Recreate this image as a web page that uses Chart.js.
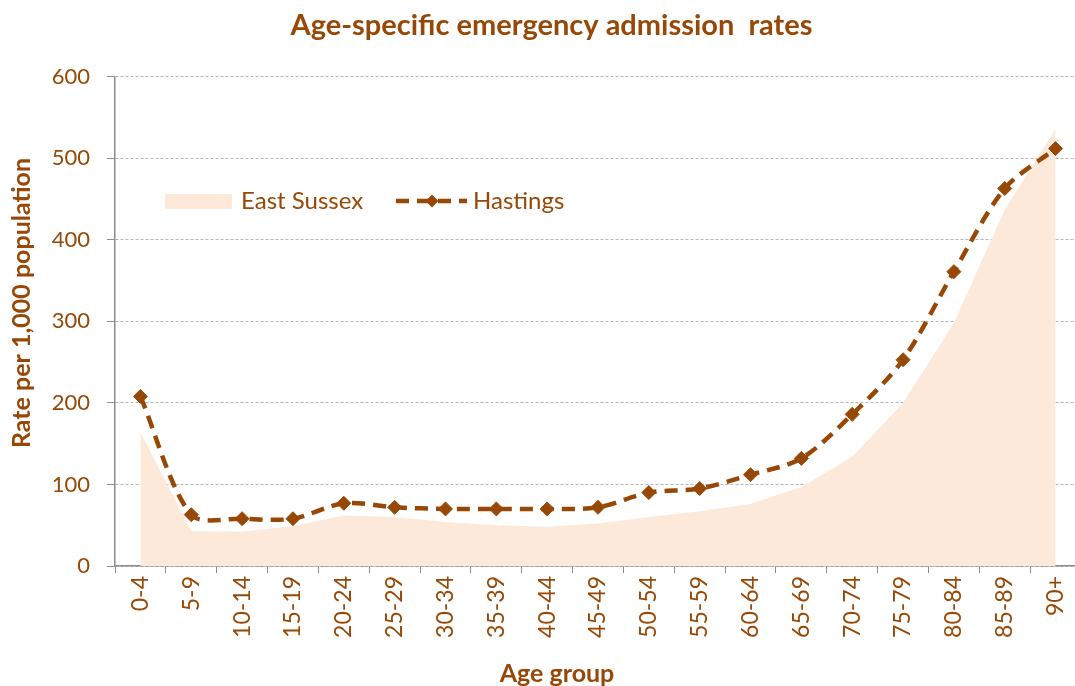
<!DOCTYPE html>
<html>
<head>
<meta charset="utf-8">
<script src="https://cdn.jsdelivr.net/npm/chart.js@4/dist/chart.umd.min.js"></script>
<style>
html,body{margin:0;padding:0;background:#fff;overflow:hidden;width:1075px;height:686px;}
#wrap{width:1075px;height:686px;overflow:hidden;}
canvas{display:block;}
</style>
</head>
<body>
<div id="wrap"><canvas id="c" width="1100" height="686" style="width:1100px;height:686px"></canvas></div>
<script>
const categories = ['0-4','5-9','10-14','15-19','20-24','25-29','30-34','35-39','40-44','45-49','50-54','55-59','60-64','65-69','70-74','75-79','80-84','85-89','90+'];
const eastSussex = [164, 43, 42, 49, 62, 60, 54, 50, 48, 52, 60, 67, 76, 97, 134, 200, 298, 437, 536];
const hastings = [208, 63, 58, 58, 77, 72, 70, 70, 70, 72, 90, 95, 112, 132, 186, 253, 361, 463, 512];
const yTicks = [0, 100, 200, 300, 400, 500, 600];
const seriesNames = ['East Sussex', 'Hastings'];
const chartTitle = 'Age-specific emergency admission  rates';
const xTitle = 'Age group';
const yTitle = 'Rate per 1,000 population';

const BROWN = '#984806';
const FILL = '#FDE9D9';
const FONT = 'Lato';

const overlay = {
  id: 'overlay',
  afterDraw(chart) {
    const ctx = chart.ctx;
    ctx.save();
    ctx.fillStyle = BROWN;
    // axis titles
    ctx.font = 'bold 25px ' + FONT;
    ctx.textAlign = 'center';
    ctx.textBaseline = 'middle';
    ctx.fillText(xTitle, 557, 674);
    ctx.save();
    ctx.translate(22, 303);
    ctx.rotate(-Math.PI / 2);
    ctx.fillText(yTitle, 0, 0);
    ctx.restore();
    // legend
    ctx.fillStyle = FILL;
    ctx.fillRect(165, 194, 67, 15);
    ctx.fillStyle = BROWN;
    ctx.font = '24px ' + FONT;
    ctx.textAlign = 'left';
    ctx.fillText(seriesNames[0], 241, 201);
    ctx.strokeStyle = BROWN;
    ctx.lineWidth = 4.5;
    ctx.setLineDash([13, 8]);
    ctx.beginPath();
    ctx.moveTo(396, 201);
    ctx.lineTo(467, 201);
    ctx.stroke();
    ctx.setLineDash([]);
    ctx.beginPath();
    ctx.moveTo(432, 194.5); ctx.lineTo(438.5, 201); ctx.lineTo(432, 207.5); ctx.lineTo(425.5, 201); ctx.closePath();
    ctx.fill();
    ctx.fillText(seriesNames[1], 473, 201);
    ctx.restore();
  }
};

new Chart(document.getElementById('c'), {
  type: 'line',
  data: {
    labels: categories,
    datasets: [
      {
        label: seriesNames[1],
        data: hastings,
        order: 0,
        borderColor: BROWN,
        backgroundColor: BROWN,
        borderWidth: 4.5,
        borderDash: [13, 8],
        tension: 0.3,
        fill: false,
        pointStyle: 'rectRot',
        pointRadius: 7,
        pointBorderWidth: 1,
        pointBackgroundColor: BROWN,
        pointBorderColor: BROWN
      },
      {
        label: seriesNames[0],
        data: eastSussex,
        order: 1,
        borderWidth: 0,
        borderColor: FILL,
        backgroundColor: FILL,
        fill: 'origin',
        tension: 0,
        pointRadius: 0
      }
    ]
  },
  options: {
    responsive: false,
    animation: false,
    layout: { padding: { left: 22, right: 19, top: 0, bottom: 0 } },
    plugins: {
      legend: { display: false },
      tooltip: { enabled: false },
      title: {
        display: true,
        text: chartTitle,
        color: BROWN,
        font: { family: FONT, size: 29, weight: 'bold', lineHeight: 1.2 },
        padding: { top: 8, bottom: 34 }
      }
    },
    scales: {
      x: {
        type: 'category',
        offset: true,
        grid: { display: true, drawOnChartArea: false, drawTicks: true, tickLength: 7, color: '#8C8C8C', offset: true },
        border: { display: true, color: '#8C8C8C', width: 1.5 },
        ticks: {
          color: BROWN,
          font: { family: FONT, size: 23 },
          minRotation: 90,
          maxRotation: 90,
          autoSkip: false,
          padding: 3
        },
        afterFit(scale) { scale.height = 120; }
      },
      y: {
        min: 0,
        max: 600,
        afterBuildTicks(scale) { scale.ticks = yTicks.map(v => ({ value: v })); },
        grid: { color: '#B4B4B4', lineWidth: 1, drawTicks: true, tickLength: 8, tickColor: '#8C8C8C', tickBorderDash: [] },
        border: { display: true, color: '#8C8C8C', width: 1.5, dash: [3, 2] },
        ticks: {
          color: BROWN,
          font: { family: FONT, size: 22 },
          padding: 17
        },
        afterFit(scale) { scale.width = 93; }
      }
    }
  },
  plugins: [overlay]
});
</script>
</body>
</html>
